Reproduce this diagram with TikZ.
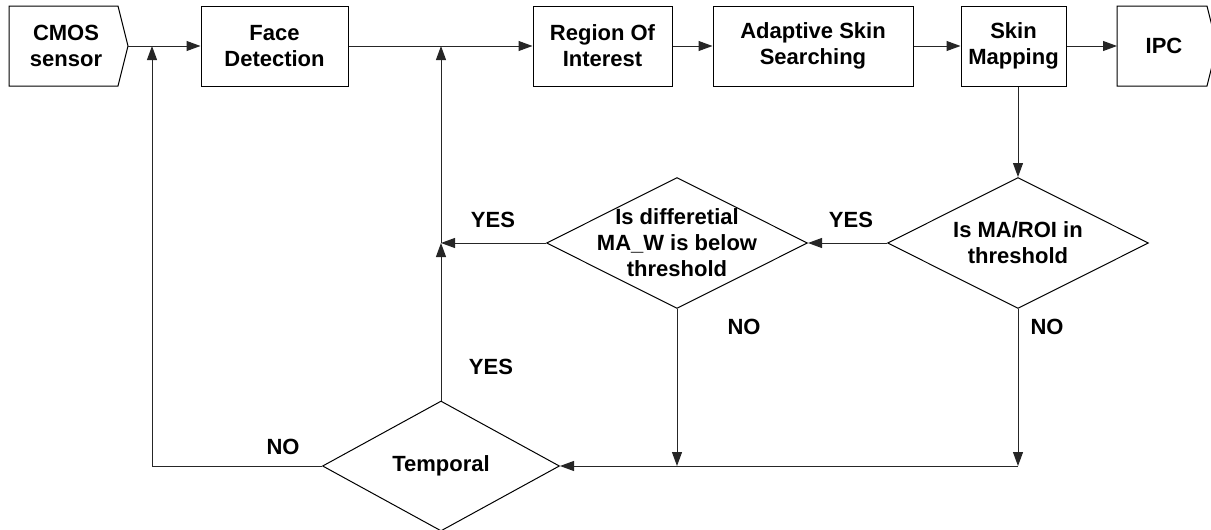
\documentclass[tikz,border=0pt]{standalone}
\usepackage{fontspec}
\setmainfont{Liberation Sans}
\usetikzlibrary{arrows.meta,shapes.geometric}

\begin{document}
\begin{tikzpicture}[x=1pt,y=-1pt,
  txt/.style={font=\bfseries\fontsize{22}{26}\selectfont, align=center, inner sep=0pt},
  conn/.style={draw=black!85, line width=1pt},
  arr/.style={conn, -{Triangle[length=14pt,width=10pt]}},
  stepbox/.style={txt, draw=black, line width=1pt, minimum height=80pt},
  decision/.style={draw=black, shape=diamond, line width=1pt, inner sep=0pt}]
\clip (0,0) rectangle (1211,530);

% process boxes along the top row
\node[txt] (cmos) at (66,46) {CMOS\\sensor};
\draw[line width=1pt] (9,6) -- (118,6) -- (128,46) coordinate (cmostip)
  -- (118,86) -- (9,86) -- cycle;
\node[stepbox, minimum width=147pt] (face)  at (274.5,46) {Face\\Detection};
\node[stepbox, minimum width=139pt] (roi)   at (602.5,46) {Region Of\\Interest};
\node[stepbox, minimum width=200pt] (adapt) at (813,46)   {Adaptive Skin\\Searching};
\node[stepbox, minimum width=105pt] (skin)  at (1013.5,46) {Skin\\Mapping};
\node[txt] (ipc) at (1164,46) {IPC};
\draw[line width=1pt] (1117,6) coordinate (ipcnw) -- (1207,6) -- (1217,46)
  -- (1207,86) -- (1117,86) -- cycle;
\coordinate (ipcin) at (1117,46);

% decisions
\node[decision, minimum width=261pt, minimum height=131pt] (maroi) at (1018,243) {};
\node[txt] at (maroi) {Is MA/ROI in\\threshold};
\node[decision, minimum width=261pt, minimum height=131pt] (diff) at (677,243) {};
\node[txt] at (diff) {Is differetial\\MA\_W is below\\threshold};
\node[decision, minimum width=237pt, minimum height=130pt] (temp) at (441,466) {};
\node[txt] at (temp) {Temporal};

% junctions
\coordinate (j1) at (441,243);
\coordinate (jtop) at (441,46);
\coordinate (jleft) at (152,46);
\coordinate (nodiff) at (677,466);
\coordinate (nomaroi) at (1018,466);

% main flow
\draw[arr] (cmostip) -- (face.west);
\draw[arr] (face.east) -- (roi.west);
\draw[arr] (roi.east) -- (adapt.west);
\draw[arr] (adapt.east) -- (skin.west);
\draw[arr] (skin.east) -- (ipcin);
\draw[arr] (maroi.north |- skin.south) -- (maroi.north);

% decision branches
\draw[arr] (maroi.west) -- (diff.east);
\draw[arr] (diff.west) -- (j1);
\draw[arr] (temp.north) -- (j1);
\draw[arr] (j1) -- (jtop);
\draw[arr] (maroi.south) -- (nomaroi);
\draw[arr] (diff.south) -- (nodiff);
\draw[arr] (nomaroi) -- (temp.east);
\draw[arr] (temp.west) -| (jleft);

% branch labels
\node[txt] at (851,220) {YES};
\node[txt] at (493,220) {YES};
\node[txt] at (491,367) {YES};
\node[txt] at (1047,327) {NO};
\node[txt] at (744,327) {NO};
\node[txt] at (283,447) {NO};
\end{tikzpicture}
\end{document}
